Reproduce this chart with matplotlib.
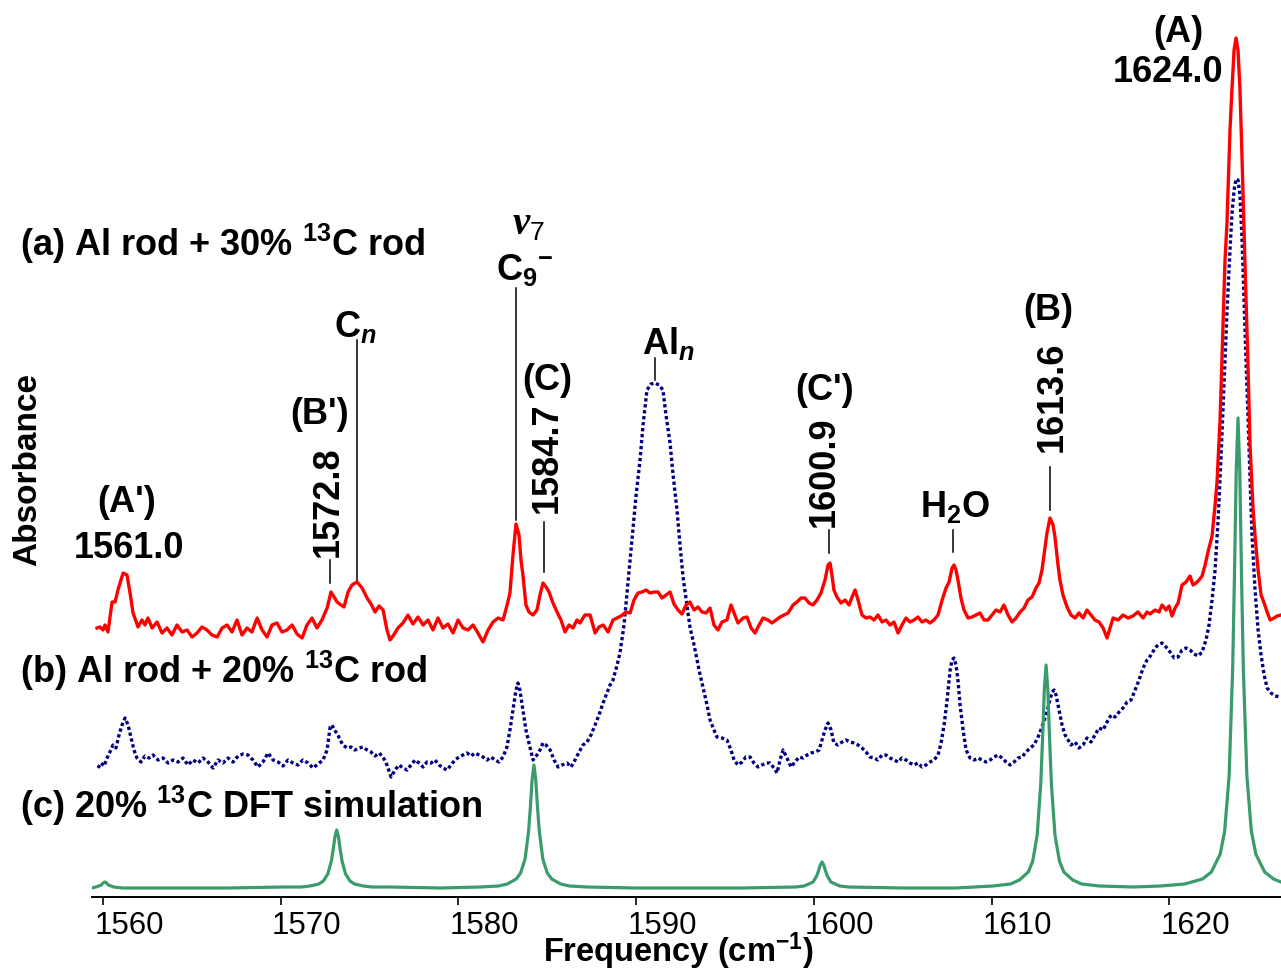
import matplotlib
matplotlib.use("Agg")
import matplotlib.pyplot as plt
import matplotlib.transforms as mtransforms

plt.rcParams['font.family'] = 'Liberation Sans'
plt.rcParams['mathtext.fontset'] = 'custom'
plt.rcParams['mathtext.rm'] = 'Liberation Sans:bold'
plt.rcParams['mathtext.it'] = 'Liberation Sans:italic:bold'
plt.rcParams['mathtext.bf'] = 'Liberation Sans:bold'

# (a) Al rod + 30% 13C rod  -- red, solid
red_x = [1559.66, 1559.83, 1560.00, 1560.11, 1560.28, 1560.51, 1560.68, 1560.84, 1561.13, 1561.35,
         1561.52, 1561.69, 1561.97, 1562.19, 1562.36, 1562.53, 1562.76, 1563.04, 1563.32, 1563.60,
         1563.88, 1564.16, 1564.45, 1564.73, 1565.01, 1565.29, 1565.57, 1565.85, 1566.13, 1566.42,
         1566.70, 1566.98, 1567.26, 1567.54, 1567.82, 1568.10, 1568.38, 1568.67, 1568.95, 1569.23,
         1569.51, 1569.79, 1570.07, 1570.35, 1570.64, 1570.92, 1571.20, 1571.48, 1571.76, 1572.04,
         1572.32, 1572.61, 1572.83, 1573.00, 1573.17, 1573.39, 1573.56, 1573.79, 1574.01, 1574.29,
         1574.58, 1574.86, 1575.08, 1575.31, 1575.53, 1575.76, 1575.98, 1576.15, 1576.32, 1576.60,
         1576.88, 1577.16, 1577.44, 1577.73, 1578.01, 1578.29, 1578.57, 1578.85, 1579.13, 1579.41,
         1579.70, 1579.98, 1580.26, 1580.54, 1580.82, 1581.10, 1581.38, 1581.67, 1581.95, 1582.23,
         1582.51, 1582.74, 1582.90, 1583.07, 1583.24, 1583.41, 1583.52, 1583.63, 1583.80, 1583.97,
         1584.20, 1584.42, 1584.59, 1584.76, 1584.93, 1585.10, 1585.32, 1585.55, 1585.77, 1586.00,
         1586.22, 1586.45, 1586.67, 1586.84, 1587.12, 1587.41, 1587.69, 1587.91, 1588.14, 1588.42,
         1588.70, 1588.93, 1589.15, 1589.43, 1589.66, 1589.88, 1590.11, 1590.33, 1590.56, 1590.78,
         1591.01, 1591.23, 1591.46, 1591.68, 1591.91, 1592.13, 1592.36, 1592.58, 1592.81, 1593.03,
         1593.26, 1593.48, 1593.71, 1593.93, 1594.16, 1594.38, 1594.61, 1594.83, 1595.11, 1595.34,
         1595.56, 1595.73, 1596.02, 1596.24, 1596.47, 1596.69, 1596.92, 1597.14, 1597.42, 1597.65,
         1597.87, 1598.10, 1598.32, 1598.55, 1598.83, 1599.05, 1599.28, 1599.50, 1599.73, 1599.95,
         1600.18, 1600.40, 1600.63, 1600.80, 1600.91, 1601.02, 1601.13, 1601.30, 1601.53, 1601.76,
         1601.98, 1602.15, 1602.32, 1602.49, 1602.71, 1602.94, 1603.16, 1603.39, 1603.61, 1603.84,
         1604.06, 1604.29, 1604.51, 1604.74, 1604.96, 1605.19, 1605.41, 1605.64, 1605.86, 1606.09,
         1606.31, 1606.54, 1606.76, 1606.99, 1607.22, 1607.44, 1607.61, 1607.78, 1607.89, 1608.00,
         1608.11, 1608.28, 1608.45, 1608.68, 1608.90, 1609.13, 1609.35, 1609.58, 1609.80, 1610.03,
         1610.25, 1610.48, 1610.70, 1610.93, 1611.15, 1611.38, 1611.61, 1611.83, 1612.05, 1612.28,
         1612.50, 1612.67, 1612.84, 1613.01, 1613.12, 1613.29, 1613.46, 1613.57, 1613.74, 1613.85,
         1614.02, 1614.25, 1614.47, 1614.70, 1614.92, 1615.15, 1615.37, 1615.60, 1615.82, 1616.05,
         1616.28, 1616.50, 1616.67, 1616.84, 1617.12, 1617.40, 1617.68, 1617.96, 1618.24, 1618.53,
         1618.75, 1618.92, 1619.20, 1619.43, 1619.60, 1619.82, 1619.99, 1620.16, 1620.33, 1620.50,
         1620.72, 1620.95, 1621.17, 1621.34, 1621.51, 1621.68, 1621.85, 1622.02, 1622.18, 1622.41,
         1622.58, 1622.69, 1622.86, 1622.97, 1623.14, 1623.25, 1623.42, 1623.53, 1623.65, 1623.76,
         1623.87, 1623.98, 1624.10, 1624.27, 1624.44, 1624.55, 1624.72, 1624.83, 1625.00, 1625.17,
         1625.34, 1625.51, 1625.68, 1625.90, 1626.07, 1626.29]
red_y = [269, 270, 267, 272, 265, 295, 295, 307, 324, 322,
         304, 284, 270, 277, 272, 279, 269, 275, 264, 269,
         262, 272, 265, 267, 260, 264, 270, 267, 262, 260,
         269, 272, 265, 277, 262, 269, 265, 279, 267, 260,
         272, 274, 265, 267, 272, 263, 259, 272, 279, 269,
         277, 289, 305, 300, 295, 292, 290, 305, 312, 315,
         309, 299, 293, 285, 291, 287, 267, 257, 261, 269,
         274, 282, 273, 280, 272, 277, 267, 279, 269, 273,
         264, 277, 269, 267, 272, 264, 255, 267, 275, 279,
         277, 292, 304, 342, 373, 362, 337, 322, 292, 285,
         282, 287, 302, 314, 310, 305, 294, 285, 277, 265,
         272, 269, 277, 274, 282, 282, 264, 270, 272, 265,
         277, 279, 281, 285, 284, 297, 304, 305, 307, 304,
         305, 305, 299, 302, 305, 293, 287, 283, 292, 295,
         287, 290, 285, 284, 289, 272, 267, 275, 277, 292,
         282, 274, 279, 280, 269, 264, 272, 279, 277, 274,
         277, 280, 282, 284, 292, 295, 299, 299, 294, 292,
         297, 304, 317, 332, 334, 322, 307, 300, 294, 297,
         292, 300, 307, 297, 282, 279, 280, 277, 282, 275,
         277, 272, 275, 264, 272, 279, 275, 277, 280, 275,
         277, 274, 277, 282, 297, 309, 315, 329, 332, 327,
         317, 299, 287, 279, 280, 282, 284, 277, 277, 282,
         287, 285, 292, 282, 275, 279, 285, 289, 297, 300,
         309, 314, 327, 349, 364, 379, 372, 360, 332, 317,
         302, 290, 282, 279, 284, 279, 287, 282, 277, 275,
         269, 259, 269, 279, 277, 282, 279, 281, 285, 279,
         285, 283, 287, 285, 292, 287, 291, 281, 289, 294,
         312, 315, 321, 312, 314, 317, 321, 332, 345, 361,
         392, 415, 477, 540, 637, 674, 767, 808, 847, 859,
         847, 808, 737, 629, 527, 451, 387, 361, 327, 302,
         294, 285, 277, 279, 281, 282]

# (b) Al rod + 20% 13C rod  -- navy, dotted
blue_x = [1559.72, 1559.89, 1560.06, 1560.23, 1560.39, 1560.56, 1560.73, 1560.90, 1561.07, 1561.24,
          1561.41, 1561.58, 1561.74, 1561.91, 1562.14, 1562.36, 1562.59, 1562.81, 1563.10, 1563.38,
          1563.66, 1563.94, 1564.22, 1564.50, 1564.78, 1565.06, 1565.35, 1565.63, 1565.91, 1566.19,
          1566.47, 1566.75, 1567.03, 1567.32, 1567.60, 1567.88, 1568.16, 1568.44, 1568.72, 1569.00,
          1569.29, 1569.57, 1569.85, 1570.13, 1570.41, 1570.69, 1570.97, 1571.25, 1571.54, 1571.82,
          1572.10, 1572.38, 1572.61, 1572.78, 1572.89, 1573.00, 1573.17, 1573.34, 1573.51, 1573.73,
          1573.96, 1574.18, 1574.41, 1574.63, 1574.86, 1575.08, 1575.31, 1575.53, 1575.76, 1575.98,
          1576.21, 1576.43, 1576.66, 1576.88, 1577.11, 1577.33, 1577.56, 1577.78, 1578.01, 1578.23,
          1578.46, 1578.68, 1578.91, 1579.13, 1579.36, 1579.58, 1579.81, 1580.03, 1580.26, 1580.48,
          1580.71, 1580.93, 1581.16, 1581.38, 1581.61, 1581.83, 1582.06, 1582.28, 1582.51, 1582.73,
          1582.90, 1583.07, 1583.24, 1583.35, 1583.46, 1583.63, 1583.80, 1583.97, 1584.20, 1584.42,
          1584.59, 1584.76, 1584.93, 1585.16, 1585.38, 1585.61, 1585.83, 1586.11, 1586.34, 1586.56,
          1586.79, 1587.01, 1587.24, 1587.46, 1587.69, 1587.91, 1588.14, 1588.36, 1588.53, 1588.70,
          1588.93, 1589.09, 1589.32, 1589.49, 1589.66, 1589.83, 1590.00, 1590.22, 1590.39, 1590.61,
          1590.84, 1591.06, 1591.29, 1591.51, 1591.68, 1591.91, 1592.08, 1592.30, 1592.47, 1592.64,
          1592.86, 1593.03, 1593.26, 1593.43, 1593.60, 1593.76, 1593.99, 1594.16, 1594.38, 1594.55,
          1594.83, 1595.11, 1595.34, 1595.51, 1595.73, 1595.96, 1596.18, 1596.41, 1596.63, 1596.86,
          1597.08, 1597.31, 1597.53, 1597.76, 1597.93, 1598.10, 1598.27, 1598.49, 1598.72, 1598.94,
          1599.17, 1599.39, 1599.62, 1599.84, 1600.07, 1600.30, 1600.46, 1600.63, 1600.80, 1600.97,
          1601.13, 1601.36, 1601.59, 1601.81, 1602.04, 1602.26, 1602.49, 1602.71, 1602.94, 1603.16,
          1603.39, 1603.61, 1603.84, 1604.06, 1604.29, 1604.51, 1604.74, 1604.96, 1605.19, 1605.41,
          1605.64, 1605.86, 1606.09, 1606.31, 1606.54, 1606.76, 1606.99, 1607.16, 1607.33, 1607.50,
          1607.67, 1607.78, 1607.89, 1608.00, 1608.11, 1608.23, 1608.40, 1608.57, 1608.79, 1609.02,
          1609.24, 1609.47, 1609.69, 1609.92, 1610.14, 1610.37, 1610.59, 1610.82, 1611.04, 1611.27,
          1611.49, 1611.72, 1611.94, 1612.17, 1612.39, 1612.62, 1612.84, 1613.07, 1613.24, 1613.41,
          1613.52, 1613.63, 1613.80, 1613.97, 1614.14, 1614.31, 1614.47, 1614.70, 1614.92, 1615.15,
          1615.37, 1615.60, 1615.82, 1616.05, 1616.28, 1616.50, 1616.73, 1616.95, 1617.18, 1617.40,
          1617.63, 1617.85, 1618.08, 1618.30, 1618.53, 1618.75, 1618.98, 1619.20, 1619.37, 1619.60,
          1619.82, 1620.05, 1620.28, 1620.50, 1620.72, 1620.95, 1621.17, 1621.40, 1621.62, 1621.85,
          1622.07, 1622.24, 1622.41, 1622.58, 1622.75, 1622.92, 1623.09, 1623.25, 1623.42, 1623.53,
          1623.65, 1623.76, 1623.87, 1623.98, 1624.10, 1624.21, 1624.32, 1624.44, 1624.55, 1624.66,
          1624.83, 1625.00, 1625.17, 1625.34, 1625.51, 1625.73, 1625.96, 1626.29]
blue_y = [129, 134, 131, 139, 145, 152, 149, 162, 172, 179,
          172, 159, 147, 139, 135, 141, 139, 142, 137, 139,
          134, 137, 135, 139, 132, 137, 134, 139, 135, 129,
          137, 134, 139, 135, 141, 143, 142, 137, 130, 135,
          144, 137, 135, 131, 137, 134, 132, 137, 134, 129,
          133, 137, 147, 170, 172, 167, 164, 157, 152, 149,
          150, 147, 149, 150, 147, 145, 141, 144, 140, 132,
          120, 127, 132, 129, 127, 132, 137, 134, 130, 135,
          134, 137, 132, 129, 127, 132, 137, 140, 142, 144,
          141, 144, 142, 140, 137, 140, 137, 135, 140, 150,
          167, 187, 207, 214, 207, 187, 167, 154, 137, 142,
          147, 154, 152, 147, 137, 130, 132, 134, 130, 137,
          145, 152, 155, 162, 172, 182, 194, 204, 212, 217,
          232, 244, 272, 304, 337, 370, 402, 437, 472, 507,
          513, 514, 512, 507, 482, 454, 422, 387, 352, 320,
          292, 270, 252, 237, 222, 210, 192, 177, 167, 160,
          159, 157, 147, 137, 132, 135, 140, 140, 134, 130,
          132, 134, 134, 129, 124, 137, 147, 139, 130, 135,
          140, 139, 142, 144, 145, 147, 157, 167, 174, 167,
          154, 152, 155, 157, 155, 154, 152, 149, 145, 140,
          139, 137, 142, 142, 139, 137, 135, 139, 137, 134,
          132, 134, 130, 132, 135, 137, 142, 154, 172, 197,
          227, 237, 239, 232, 217, 192, 167, 147, 139, 137,
          139, 137, 135, 137, 140, 142, 139, 135, 132, 135,
          139, 140, 145, 149, 152, 160, 170, 182, 194, 205,
          207, 202, 187, 172, 162, 157, 152, 155, 149, 152,
          159, 155, 162, 169, 167, 175, 182, 180, 185, 189,
          195, 197, 207, 217, 229, 237, 242, 249, 252, 254,
          250, 245, 239, 240, 247, 249, 247, 243, 241, 245,
          257, 272, 297, 327, 377, 442, 517, 585, 647, 683,
          707, 718, 717, 702, 657, 597, 537, 477, 417, 361,
          307, 267, 242, 222, 209, 204, 201, 200]

# (c) 20% 13C DFT simulation -- green, solid
green_x = [1559.38, 1559.60, 1559.90, 1560.00, 1560.10, 1560.20, 1560.30, 1560.60, 1561.10,
           1567.00, 1570.15, 1571.15, 1571.65, 1572.15, 1572.40, 1572.65, 1572.85, 1572.95, 1573.05,
           1573.15, 1573.25, 1573.35, 1573.45, 1573.65, 1573.90, 1574.15, 1574.65, 1575.15, 1576.15,
           1579.00, 1581.25, 1582.25, 1582.75, 1583.25, 1583.50, 1583.75, 1583.95, 1584.05, 1584.15,
           1584.25, 1584.35, 1584.45, 1584.55, 1584.75, 1585.00, 1585.25, 1585.75, 1586.25, 1587.25,
           1590.00, 1596.00, 1598.96, 1599.46, 1599.96, 1600.16, 1600.26, 1600.36, 1600.46, 1600.56,
           1600.66, 1600.76, 1600.96, 1601.46, 1601.96, 1605.00, 1608.00, 1610.07, 1611.07, 1611.57,
           1612.07, 1612.32, 1612.57, 1612.77, 1612.87, 1612.97, 1613.07, 1613.17, 1613.27, 1613.37,
           1613.57, 1613.82, 1614.07, 1614.57, 1615.07, 1616.07, 1618.00, 1619.50, 1620.87, 1621.87,
           1622.37, 1622.87, 1623.12, 1623.37, 1623.57, 1623.67, 1623.77, 1623.87, 1623.97, 1624.07,
           1624.17, 1624.37, 1624.62, 1624.87, 1625.37, 1625.87, 1626.29]
green_y = [9, 10, 12, 14, 15, 14, 12, 10, 9,
           9, 10, 10, 11, 13, 16, 23, 36, 47, 60,
           67, 60, 47, 36, 23, 16, 13, 11, 10, 10,
           9, 10, 11, 13, 18, 24, 38, 66, 90, 118,
           132, 118, 90, 66, 38, 24, 18, 13, 11, 10,
           9, 9, 10, 11, 15, 21, 26, 32, 35, 32,
           26, 21, 15, 11, 10, 9, 9, 11, 13, 17,
           25, 36, 62, 113, 157, 207, 232, 207, 157, 113,
           62, 36, 25, 17, 13, 11, 10, 11, 13, 18,
           25, 43, 66, 121, 228, 320, 426, 479, 426, 320,
           228, 121, 66, 43, 25, 18, 15]

ticks = [1560, 1570, 1580, 1590, 1600, 1610, 1620]
tick_labels = ['1560', '1570', '1580', '1590', '1600', '1610', '1620']

W, H = 1281, 973
fig = plt.figure(figsize=(W / 100, H / 100), dpi=100)
ax = fig.add_axes([92 / W, 76 / H, 1189 / W, 897 / H])

ax.plot(blue_x, blue_y, color='#000080', lw=2.4, ls=(0, (1, 0.8)))
ax.plot(red_x, red_y, color='#ff0000', lw=2.4)
ax.plot(green_x, green_y, color='#3a9b6b', lw=2.3)

ax.set_xlim(1559.38, 1626.29)
ax.set_ylim(0, 897)

for s in ['left', 'right', 'top']:
    ax.spines[s].set_visible(False)
ax.spines['bottom'].set_linewidth(1.4)
ax.set_yticks([])
ax.set_xticks(ticks)
ax.set_xticklabels(tick_labels)
ax.tick_params(axis='x', direction='out', length=6, width=1.2, pad=4, labelsize=22.5)
# tick labels in the source sit a bit to the right of their ticks
shift = mtransforms.ScaledTranslation(26 / 100, 0, fig.dpi_scale_trans)
for lab in ax.get_xticklabels():
    lab.set_transform(lab.get_transform() + shift)

fs = 26
bold = dict(ha='center', va='center', fontsize=fs, fontweight='bold')


def mark(x, y0, y1):
    ax.plot([x, x], [y0, y1], color='black', lw=1.1)


# peak labels
ax.text(1561.35, 395, "(A')", **bold)
ax.text(1561.46, 349, '1561.0', **bold)

ax.text(1572.21, 483, "(B')", **bold)
ax.text(1572.66, 395, '1572.8', rotation=90, **bold)
mark(1572.80, 337, 314)

ax.text(1574.18, 570, r'C$_{n}$', **bold)
mark(1574.29, 557, 317)

ax.text(1583.52, 672, 'ν', ha='center', va='center', fontsize=28,
        family='Liberation Serif', style='italic', fontweight='bold')
ax.text(1584.42, 664, '7', ha='center', va='center', fontsize=19)
ax.text(1583.75, 627, r'C$_{\mathrm{9}}{}^{-}$', **bold)
mark(1583.24, 609, 377)

ax.text(1584.99, 517, '(C)', **bold)
ax.text(1585.0, 439, '1584.7', rotation=90, **bold)
mark(1584.82, 375, 325)

ax.text(1591.80, 553, r'Al$_{n}$', **bold)
mark(1591.06, 539, 517)

ax.text(1600.63, 506, "(C')", **bold)
ax.text(1600.57, 425, '1600.9', rotation=90, **bold)
mark(1600.86, 367, 344)

ax.text(1607.95, 390, r'H$_{\mathrm{2}}$O', **bold)
mark(1607.83, 367, 345)

ax.text(1613.18, 587, '(B)', **bold)
ax.text(1613.40, 500, '1613.6', rotation=90, **bold)
mark(1613.29, 430, 387)

ax.text(1620.49, 865, '(A)', **bold)
ax.text(1619.93, 824, '1624.0', **bold)

# spectrum titles
fig.text(20 / W, 1 - 244 / H, r'(a) Al rod + 30% $^{\mathrm{13}}$C rod',
         ha='left', va='center', fontsize=fs, fontweight='bold')
fig.text(20 / W, 1 - 671 / H, r'(b) Al rod + 20% $^{\mathrm{13}}$C rod',
         ha='left', va='center', fontsize=fs, fontweight='bold')
fig.text(20 / W, 1 - 806 / H, r'(c) 20% $^{\mathrm{13}}$C DFT simulation',
         ha='left', va='center', fontsize=fs, fontweight='bold')

fig.text(28 / W, 1 - 470 / H, 'Absorbance', rotation=90, ha='center', va='center',
         fontsize=24, fontweight='bold')
fig.text(678 / W, 1 - 951 / H, r'Frequency (cm$^{\mathrm{-1}}$)', ha='center', va='center',
         fontsize=23.5, fontweight='bold')

fig.savefig('out.png', dpi=100)
